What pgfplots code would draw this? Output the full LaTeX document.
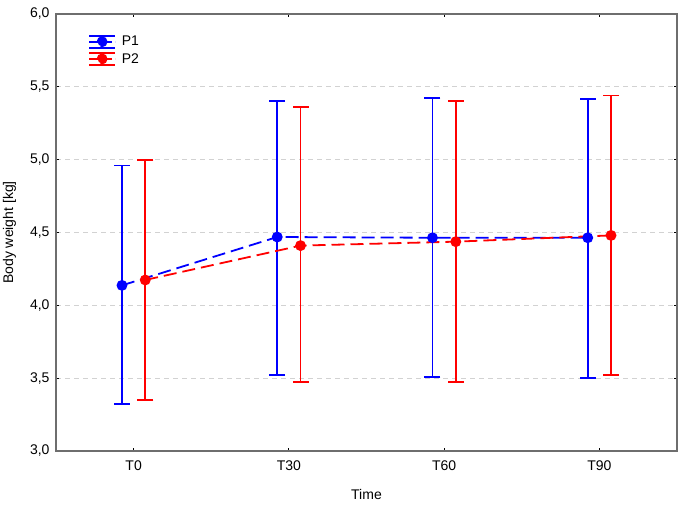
\documentclass[border=0pt]{standalone}
\usepackage{pgfplots}
\pgfplotsset{compat=1.18}
\usepackage{fontspec}
\setmainfont{Liberation Sans}
\definecolor{axgray}{RGB}{110,110,110}
\definecolor{gridgray}{RGB}{210,210,210}
\definecolor{pblue}{RGB}{0,0,255}
\definecolor{pred}{RGB}{255,0,0}
\begin{document}
\begin{tikzpicture}[x=1bp,y=1bp]
\path[use as bounding box] (-56,-58) rectangle (630,451);
\begin{axis}[
  at={(0,0)}, anchor=south west,
  scale only axis, width=621bp, height=437bp,
  xmin=-0.5, xmax=3.5, ymin=3, ymax=6,
  xtick={0,1,2,3}, xticklabels={T0,T30,T60,T90},
  ytick={3,3.5,4,4.5,5,5.5,6},
  ticklabel style={font=\fontsize{14bp}{16bp}\selectfont},
  xticklabel style={yshift=-6bp},
  yticklabel style={xshift=-3bp, /pgf/number format/.cd, use comma, fixed, fixed zerofill, precision=1, assume math mode=true},
  label style={font=\fontsize{14bp}{16bp}\selectfont},
  xlabel={Time}, ylabel={Body weight [kg]},
  xlabel style={at={(axis description cs:0.5,0)}, anchor=center, yshift=-43bp},
  ylabel style={at={(axis description cs:0,0.5)}, anchor=center, yshift=46.5bp},
  axis line style={axgray, line width=1.5bp},
  tick style={black, line width=0.8bp},
  major tick length=3bp,
  tick pos=both,
  ymajorgrids,
  major grid style={gridgray, line width=0.9bp, dash pattern=on 5bp off 4bp},
  legend style={draw=none, fill=none, at={(0,1)}, anchor=north west, xshift=32bp, yshift=-20bp,
    font=\fontsize{14bp}{16bp}\selectfont, row sep=2bp, inner sep=0pt, cells={anchor=west}},
  legend cell align=left,
  unbounded coords=jump,
]
% error bars (low, high) drawn as separate segments with caps
\addplot[draw=pblue, solid, line width=1.8bp, mark=-, mark size=8bp,
  mark options={draw=pblue, solid, line width=1.8bp}, forget plot] coordinates {
  (-0.075,3.320) (-0.075,4.960) (nan,nan)
  (0.925,3.524) (0.925,5.404) (nan,nan)
  (1.925,3.508) (1.925,5.425) (nan,nan)
  (2.925,3.500) (2.925,5.416)
};
\addplot[draw=pred, solid, line width=1.8bp, mark=-, mark size=8bp,
  mark options={draw=pred, solid, line width=1.8bp}, forget plot] coordinates {
  (0.075,3.350) (0.075,4.995) (nan,nan)
  (1.075,3.475) (1.075,5.360) (nan,nan)
  (2.075,3.476) (2.075,5.400) (nan,nan)
  (3.075,3.524) (3.075,5.440)
};
\addplot[draw=pblue, line width=1.8bp, dash pattern=on 13bp off 6bp,
  mark=*, mark size=4.5bp, mark options={solid, fill=pblue, draw=pblue},
  legend image code/.code={
    \draw[pblue, line width=1.8bp, solid] (0bp,6bp) -- (26bp,6bp);
    \draw[pblue, line width=1.8bp, solid] (0bp,-6bp) -- (26bp,-6bp);
    \draw[pblue, line width=1.8bp, dash pattern=on 10bp off 3bp] (0bp,0bp) -- (26bp,0bp);
    \fill[pblue] (13bp,0bp) circle (4.5bp);
  },
] coordinates {
  (-0.075,4.137) (0.925,4.469) (1.925,4.464) (2.925,4.464)
};
\addlegendentry{\ P1}
\addplot[draw=pred, line width=1.8bp, dash pattern=on 13bp off 6bp,
  mark=*, mark size=4.5bp, mark options={solid, fill=pred, draw=pred},
  legend image code/.code={
    \draw[pred, line width=1.8bp, solid] (0bp,6bp) -- (26bp,6bp);
    \draw[pred, line width=1.8bp, solid] (0bp,-6bp) -- (26bp,-6bp);
    \draw[pred, line width=1.8bp, dash pattern=on 10bp off 3bp] (0bp,0bp) -- (26bp,0bp);
    \fill[pred] (13bp,0bp) circle (4.5bp);
  },
] coordinates {
  (0.075,4.174) (1.075,4.410) (2.075,4.437) (3.075,4.480)
};
\addlegendentry{\ P2}
\end{axis}
\end{tikzpicture}
\end{document}
